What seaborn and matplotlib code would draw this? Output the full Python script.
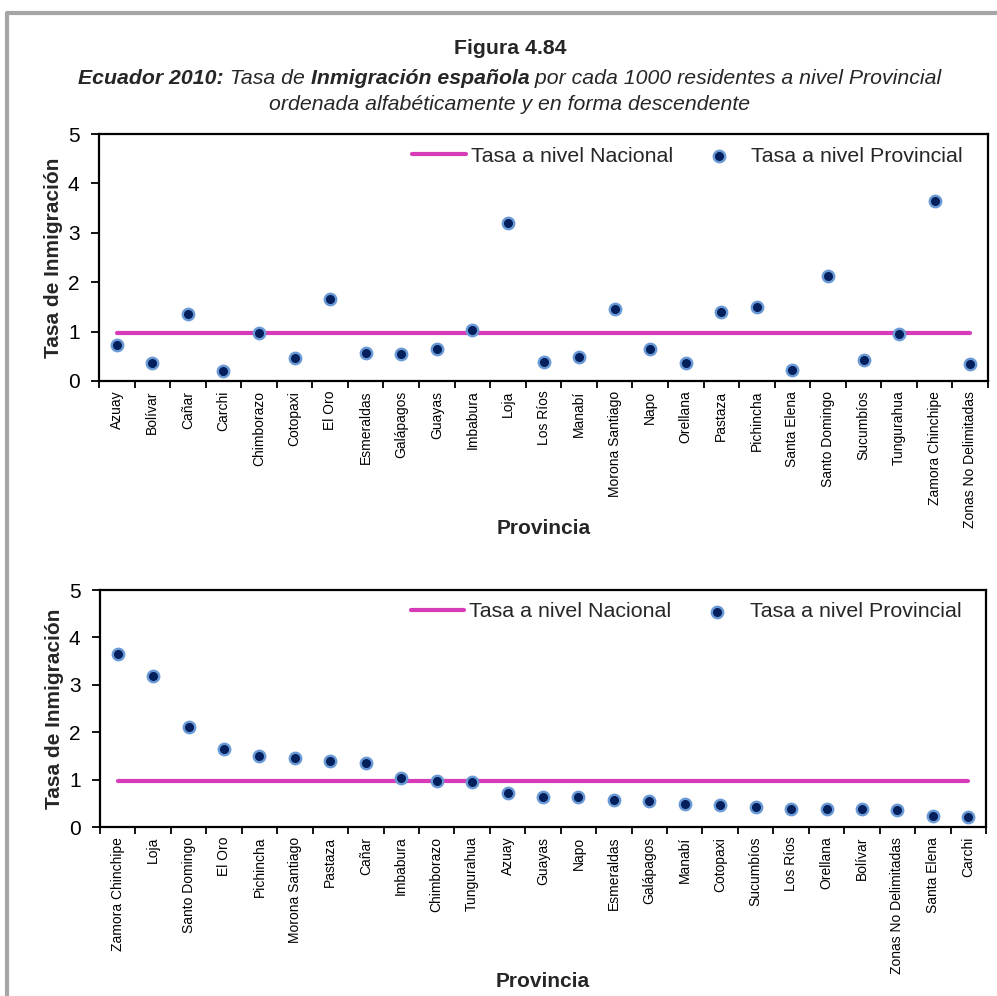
import numpy as np
import pandas as pd
import seaborn as sns
import matplotlib.pyplot as plt
from matplotlib.lines import Line2D

# Datos: tasa de inmigración española por cada 1000 residentes (Ecuador 2010)
provincias = ["Azuay", "Bolívar", "Cañar", "Carchi", "Chimborazo", "Cotopaxi", "El Oro",
              "Esmeraldas", "Galápagos", "Guayas", "Imbabura", "Loja", "Los Ríos", "Manabí",
              "Morona Santiago", "Napo", "Orellana", "Pastaza", "Pichincha", "Santa Elena",
              "Santo Domingo", "Sucumbíos", "Tungurahua", "Zamora Chinchipe",
              "Zonas No Delimitadas"]
tasa_provincial = [0.72, 0.37, 1.35, 0.21, 0.98, 0.47, 1.65, 0.56, 0.55, 0.64, 1.04, 3.19,
                   0.38, 0.48, 1.45, 0.64, 0.37, 1.40, 1.50, 0.23, 2.12, 0.43, 0.95, 3.65,
                   0.35]
tasa_nacional = 0.97

orden_desc = ["Zamora Chinchipe", "Loja", "Santo Domingo", "El Oro", "Pichincha",
              "Morona Santiago", "Pastaza", "Cañar", "Imbabura", "Chimborazo", "Tungurahua",
              "Azuay", "Guayas", "Napo", "Esmeraldas", "Galápagos", "Manabí", "Cotopaxi",
              "Sucumbíos", "Los Ríos", "Orellana", "Bolívar", "Zonas No Delimitadas",
              "Santa Elena", "Carchi"]

df = pd.DataFrame({"Provincia": provincias, "Tasa": tasa_provincial})
df_desc = df.set_index("Provincia").loc[orden_desc].reset_index()

sns.set_style("white")
plt.rcParams["font.family"] = ["Liberation Sans", "DejaVu Sans"]

rosa = "#d83bb8"
azul_oscuro = "#03205c"
azul_borde = "#6a9ad6"

fig = plt.figure(figsize=(9.97, 9.96), dpi=100)
W, H = 997, 996


def px_axes(left, top, right, bottom):
    return [left / W, 1 - bottom / H, (right - left) / W, (bottom - top) / H]


def panel(ax, data, xlabel_y):
    n = len(data)
    sns.lineplot(x=data["Provincia"], y=[tasa_nacional] * n, sort=False, color=rosa,
                 linewidth=3, label="Tasa a nivel Nacional", ax=ax, zorder=2)
    sns.scatterplot(data=data, x="Provincia", y="Tasa", s=68, color=azul_oscuro,
                    edgecolor=azul_borde, linewidth=1.7, label="Tasa a nivel Provincial",
                    ax=ax, zorder=3)
    ax.set_xlim(-0.5, n - 0.5)
    ax.set_ylim(0, 5)
    ax.set_yticks(range(6))
    ax.set_xticks(np.arange(n + 1) - 0.5, minor=True)
    ax.tick_params(axis="x", which="major", length=0, pad=7, labelsize=10,
                   labelrotation=90, colors="black")
    ax.tick_params(axis="x", which="minor", length=5, width=1.3, direction="out",
                   bottom=True, color="black")
    ax.tick_params(axis="y", length=6, width=1.3, direction="out", pad=8, labelsize=15,
                   left=True, colors="black")
    for sp in ax.spines.values():
        sp.set_color("black")
        sp.set_linewidth(1.6)
    ax.set_ylabel("Tasa de Inmigración", fontsize=15, fontweight="bold")
    ax.yaxis.set_label_coords(-0.041, 0.5)
    ax.set_xlabel("Provincia", fontsize=15, fontweight="bold")
    ax.xaxis.set_label_coords(0.5, xlabel_y)
    ax.legend(ncol=2, loc="upper right", bbox_to_anchor=(0.972, 0.948), frameon=False,
              fontsize=15.4, borderpad=0, borderaxespad=0, handlelength=2.5,
              handletextpad=0.25, columnspacing=0.9)


ax1 = fig.add_axes(px_axes(99, 134, 988, 381))
panel(ax1, df, -0.56)

ax2 = fig.add_axes(px_axes(100, 590, 986, 827))
panel(ax2, df_desc, -0.61)

# Títulos
cx = 510 / W
fig.text(cx, 1 - 49 / H, "Figura 4.84", fontsize=15.3, fontweight="bold", ha="center",
         va="center")
fig.text(cx, 1 - 104 / H, "ordenada alfabéticamente y en forma descendente",
         fontsize=15.3, style="italic", ha="center", va="center")

partes = [("Ecuador 2010:", "bold"), (" Tasa de ", "normal"),
          ("Inmigración española", "bold"),
          (" por cada 1000 residentes a nivel Provincial", "normal")]
renderer = fig.canvas.get_renderer()
textos = [fig.text(0, 1 - 79 / H, t, fontsize=15.3, style="italic", fontweight=w,
                   ha="left", va="center") for t, w in partes]
anchos = [t.get_window_extent(renderer).width for t in textos]
x = 510 - sum(anchos) / 2
for t, a in zip(textos, anchos):
    t.set_x(x / W)
    x += a

# Marco gris
fig.add_artist(Line2D([7 / W, 7 / W, 1], [0, 1 - 13 / H, 1 - 13 / H],
                      transform=fig.transFigure, color="#a6a6a6", linewidth=3))

fig.savefig("out.png", dpi=100)
